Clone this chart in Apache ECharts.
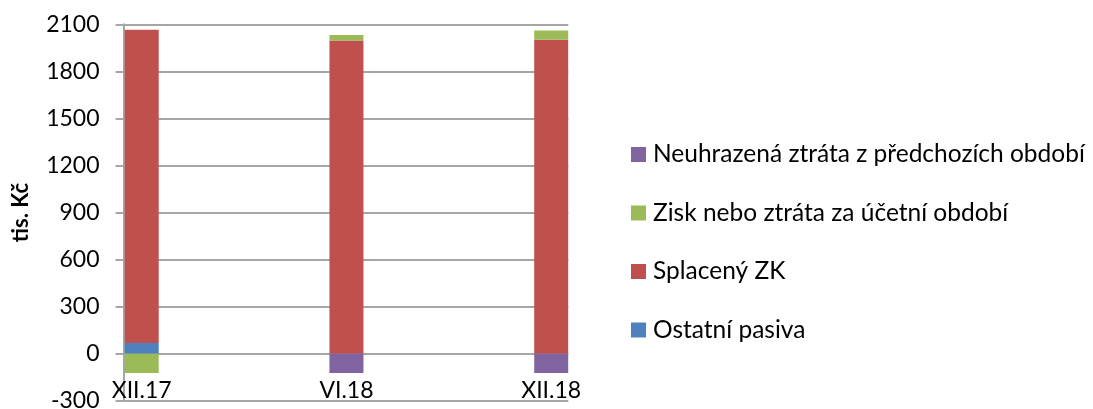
<!DOCTYPE html>
<html>
<head>
<meta charset="utf-8">
<script src="https://cdn.jsdelivr.net/npm/echarts@6/dist/echarts.min.js"></script>
<style>
  html, body { margin: 0; padding: 0; background: #fff; }
  #chartContainer { width: 1093px; height: 409px; }
</style>
</head>
<body>
<div id="chartContainer"></div>
<script>
var periods = ['XII.17', 'VI.18', 'XII.18'];
var ostatniPasiva = [68, 0, 0];
var splacenyZK = [1998, 1996, 2002];
var ziskZtrata = [-123, 36, 59];
var neuhrazenaZtrata = [0, -123, -123];
var yTicks = [-300, 0, 300, 600, 900, 1200, 1500, 1800, 2100];

var chartDom = document.getElementById('chartContainer');
var chart = echarts.init(chartDom);
var fontName = 'Lato';
var gridGray = '#a6a6a6';

// value first so the stack goes on y, position second (numeric x like in excel)
function toPoints(arr) {
  var out = [];
  for (var i = 0; i < arr.length; i++) {
    out.push([arr[i], i]);
  }
  return out;
}

function makeSeries(name, arr, color) {
  return {
    name: name,
    type: 'bar',
    stack: 'pasiva',
    barWidth: 34,
    dimensions: ['hodnota', 'poradi'],
    encode: { x: 'poradi', y: 'hodnota' },
    itemStyle: { color: color },
    data: toPoints(arr)
  };
}

var option = {
  animation: false,
  textStyle: { fontFamily: fontName },
  grid: { left: 123.5, top: 24.3, width: 444.8, height: 376.4, containLabel: false, outerBoundsMode: 'none' },
  legend: {
    orient: 'vertical',
    left: 626,
    top: 137,
    itemWidth: 15,
    itemHeight: 15,
    itemGap: 33.5,
    icon: 'rect',
    data: ['Neuhrazená ztráta z předchozích období', 'Zisk nebo ztráta za účetní období', 'Splacený ZK', 'Ostatní pasiva'],
    textStyle: { fontFamily: fontName, fontSize: 24.5, lineHeight: 24, color: '#000', padding: [0, 0, 0, 2] }
  },
  xAxis: {
    type: 'value',
    min: -0.0889,
    max: 2.0835,
    axisLine: { show: false, onZero: false },
    axisTick: { show: false },
    splitLine: { show: false },
    axisLabel: {
      customValues: [0, 1, 2],
      // labels sit just under the zero line, like excel does
      margin: -22,
      fontSize: 23,
      color: '#000',
      fontFamily: fontName,
      formatter: function (v) { return periods[Math.round(v)]; }
    }
  },
  yAxis: {
    type: 'value',
    min: yTicks[0],
    max: yTicks[yTicks.length - 1],
    interval: 300,
    name: 'tis. Kč',
    nameLocation: 'middle',
    nameGap: 92,
    nameTextStyle: { fontFamily: fontName, fontSize: 22, fontWeight: 'bold', color: '#000' },
    axisLine: { show: true, onZero: false, lineStyle: { color: gridGray, width: 2 } },
    axisTick: { show: true, length: 8, lineStyle: { color: gridGray, width: 2 } },
    splitLine: { show: true, lineStyle: { color: gridGray, width: 2 } },
    axisLabel: {
      margin: 24,
      fontSize: 23,
      color: '#000',
      fontFamily: fontName,
      formatter: function (v) { return String(v); }
    }
  },
  series: [
    makeSeries('Ostatní pasiva', ostatniPasiva, '#4F81BD'),
    makeSeries('Splacený ZK', splacenyZK, '#C0504D'),
    makeSeries('Zisk nebo ztráta za účetní období', ziskZtrata, '#9BBB59'),
    makeSeries('Neuhrazená ztráta z předchozích období', neuhrazenaZtrata, '#8064A2')
  ]
};
chart.setOption(option);
</script>
</body>
</html>
